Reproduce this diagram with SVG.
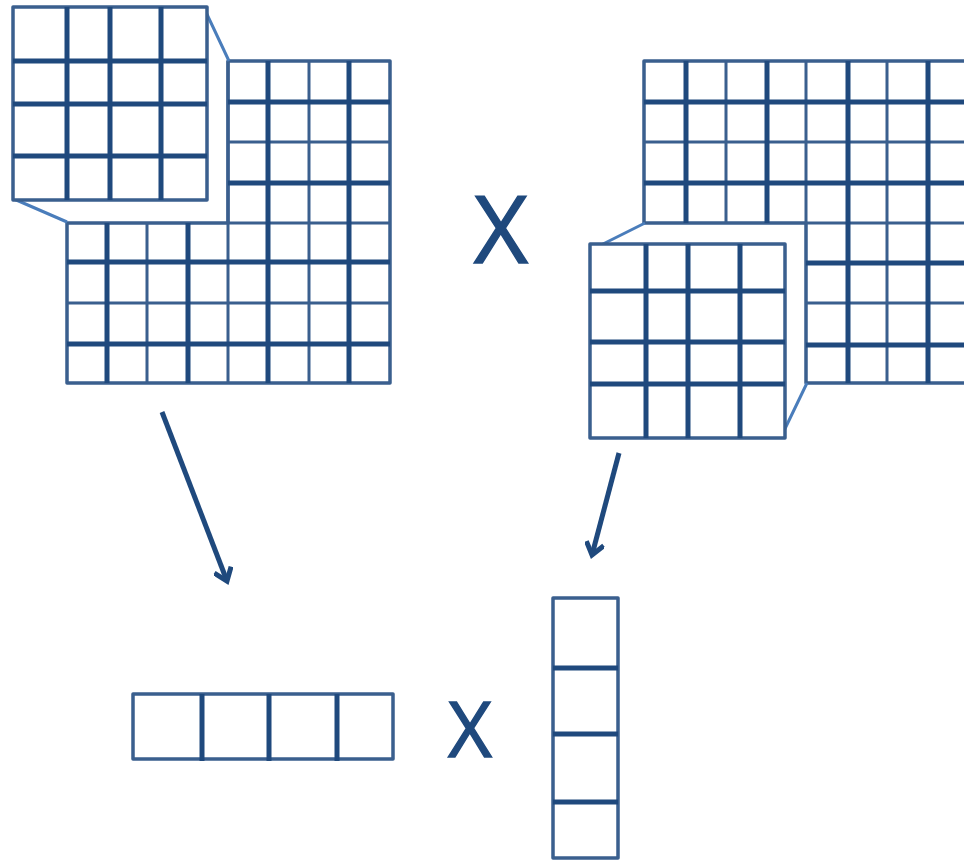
<svg xmlns="http://www.w3.org/2000/svg" width="964" height="860" viewBox="0 0 964 860">
<defs>
<style>
.bd{fill:none;stroke:#3a5f8e;stroke-width:3.5;stroke-linejoin:round}
.bdw{fill:#fff;stroke:#3a5f8e;stroke-width:3.5;stroke-linejoin:round}
.tn{stroke:#3a5f8e;stroke-width:3;fill:none}
.tk{stroke:#1f497d;stroke-width:5;fill:none}
.co{stroke:#4a7dbb;stroke-width:3;fill:none}
.ar{stroke:#1f497d;stroke-width:5;fill:none;stroke-linecap:butt}
.x{font-family:"Open Sans","Liberation Sans",sans-serif;font-weight:400;fill:#1f497d;stroke:#1f497d;stroke-width:1.4;text-anchor:middle}
</style>
<marker id="ah" viewBox="0 0 20 20" refX="14" refY="10" markerWidth="20" markerHeight="20" markerUnits="userSpaceOnUse" orient="auto">
<path d="M2,1 L14,10 L2,19" fill="none" stroke="#1f497d" stroke-width="5" stroke-linejoin="miter"/>
</marker>
</defs>
<rect width="964" height="860" fill="#fff"/>

<g id="matrixA">
<path class="bd" d="M228,61 H390 V383 H67 V223 H228 Z"/>
<path class="tn" d="M228,142 H390 M67,303 H390 M147,223 V383 M309,61 V383"/>
<path class="tn" d="M228,223 H390 M228,61 V383"/>
<path class="tk" d="M228,102 H390 M228,183 H390 M67,262 H390 M67,344 H390 M107,223 V383 M188,223 V383 M268,61 V383 M349,61 V383"/>
</g>

<g id="zoomA">
<path class="co" d="M204,8 L229,61 M14,199 L67,222"/>
<rect class="bdw" x="13" y="7" width="194" height="193"/>
<path class="tk" d="M67,7 V200 M110,7 V200 M161,7 V200 M13,61 H207 M13,104 H207 M13,156 H207"/>
</g>

<g id="operatorTop">
<text class="x" x="501" y="263" font-size="94">X</text>
</g>

<g id="matrixB">
<path class="bd" d="M644,61 H967 V383 H806 V223 H644 Z"/>
<path class="tn" d="M644,142 H967 M806,303 H967 M726,61 V223 M887,61 V383 M806,223 H967 M806,61 V223"/>
<path class="tk" d="M644,102 H967 M644,183 H967 M806,263 H967 M806,345 H967 M686,61 V223 M767,61 V223 M848,61 V383 M928,61 V383"/>
</g>

<g id="zoomB">
<path class="co" d="M591,250 L645,223 M781,437 L807,383"/>
<rect class="bdw" x="590" y="244" width="195" height="194"/>
<path class="tk" d="M646,244 V438 M688,244 V438 M740,244 V438 M590,291 H785 M590,342 H785 M590,384 H785"/>
</g>

<g id="rowVector">
<rect class="bd" x="133" y="694" width="260" height="65"/>
<path class="tk" d="M202,694 V761 M269,694 V761 M337,694 V761"/>
</g>

<g id="operatorBottom">
<text class="x" x="470" y="757" font-size="76">X</text>
</g>

<g id="colVector">
<rect class="bd" x="553" y="598" width="65" height="260"/>
<path class="tk" d="M553,668 H618 M553,734 H618 M553,802 H618"/>
</g>

<g id="connectors">
<line class="ar" x1="162" y1="412" x2="227" y2="581" marker-end="url(#ah)"/>
<line class="ar" x1="619" y1="453" x2="592" y2="555" marker-end="url(#ah)"/>
</g>
</svg>
